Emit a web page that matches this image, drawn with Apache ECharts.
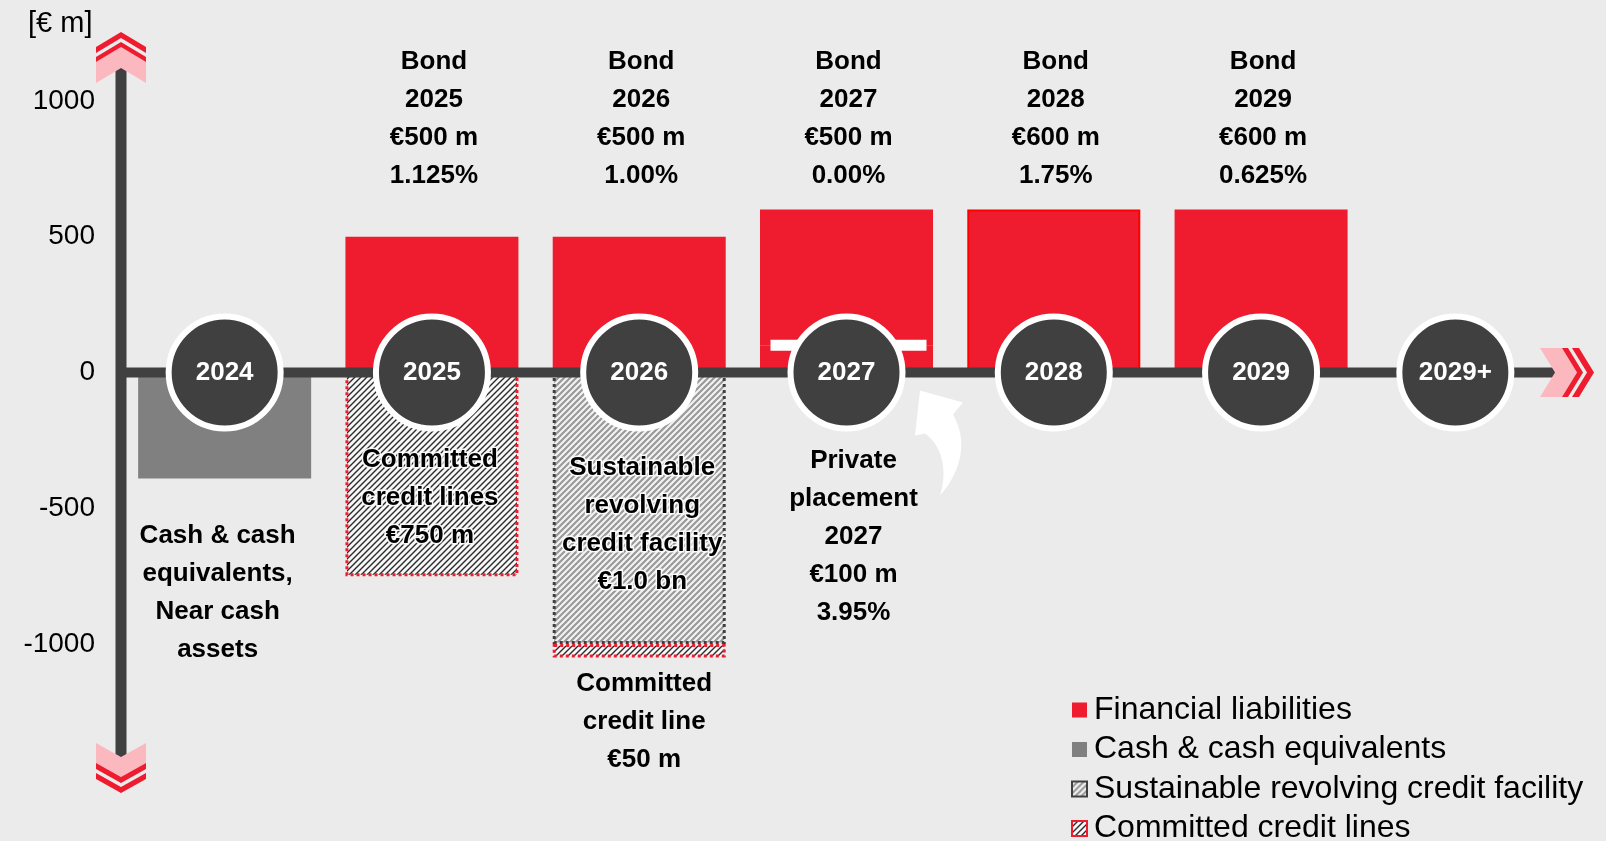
<!DOCTYPE html>
<html><head><meta charset="utf-8">
<script src="https://cdn.jsdelivr.net/npm/echarts/dist/echarts.min.js"></script>
<style>html,body{margin:0;padding:0;background:#EBEBEB}#c{width:1606px;height:841px}</style>
</head><body><div id="c"></div><script>
// ---------- data ----------
const categories = ['2024', '2025', '2026', '2027', '2028', '2029', '2029+'];
const bondValues = [null, 500, 500, 500, 600, 600, null];
const privatePlacementValues = [null, null, null, 100, null, null, null];
const cashValues = [-390, null, null, null, null, null, null];
const revolvingFacilityValues = [null, null, -1000, null, null, null, null];
const committedCreditValues = [null, -750, -50, null, null, null, null];
const yAxisMin = -1000, yAxisMax = 1000, yAxisStep = 500;
const legendNames = ['Financial liabilities', 'Cash & cash equivalents', 'Sustainable revolving credit facility', 'Committed credit lines'];
const bondCategories = ['2025', '2026', '2027', '2028', '2029'];
const bondLabels = ['Bond\n2025\n€500 m\n1.125%', 'Bond\n2026\n€500 m\n1.00%', 'Bond\n2027\n€500 m\n0.00%', 'Bond\n2028\n€600 m\n1.75%', 'Bond\n2029\n€600 m\n0.625%'];
const noteCategories = ['2024', '2025', '2026', '2026', '2027'];
const noteLabels = ['Cash & cash\nequivalents,\nNear cash\nassets', 'Committed\ncredit lines\n€750 m', 'Sustainable\nrevolving\ncredit facility\n€1.0 bn', 'Committed\ncredit line\n€50 m', 'Private\nplacement\n2027\n€100 m\n3.95%'];
const unitLabel = '[€ m]';

// ---------- style ----------
const RED = '#EE1C2E', PINK = '#FBB9BF', DARK = '#404040', FONT = '"Liberation Sans", Arial, sans-serif';
const GRID_LEFT = 121, GRID_RIGHT = 34, GRID_TOP = 101, GRID_BOTTOM = 197;
const noteLayout = [ {dx: -7, top: 517, halo: false}, {dx: -2, top: 441, halo: true}, {dx: 3, top: 449, halo: true}, {dx: 5, top: 665, halo: false}, {dx: 7, top: 442, halo: false} ];

function stripes(bg, fg, size, lw) {
  const c = document.createElement('canvas');
  c.width = c.height = size;
  const ctx = c.getContext('2d');
  ctx.fillStyle = bg; ctx.fillRect(0, 0, size, size);
  ctx.strokeStyle = fg; ctx.lineWidth = lw;
  ctx.beginPath();
  ctx.moveTo(-1, size + 1); ctx.lineTo(size + 1, -1);
  ctx.moveTo(-size / 2 - 1, size / 2 + 1); ctx.lineTo(size / 2 + 1, -size / 2 - 1);
  ctx.moveTo(size / 2 - 1, size * 1.5 + 1); ctx.lineTo(size * 1.5 + 1, size / 2 - 1);
  ctx.stroke();
  return c;
}
const committedPattern = { image: stripes('#f7f7f7', '#2a2a2a', 6, 1.4), repeat: 'repeat' };
const revolvingPattern = { image: stripes('#f4f4f4', '#9a9a9a', 6, 2.2), repeat: 'repeat' };

const chart = echarts.init(document.getElementById('c'), null, { renderer: 'canvas' });
const BAR_W = 173;

const option = {
  backgroundColor: '#EBEBEB',
  animation: false,
  textStyle: { fontFamily: FONT },
  title: { text: unitLabel, left: 28, top: 9, padding: 0, textStyle: { fontSize: 29, fontWeight: 'normal', color: '#000', fontFamily: FONT } },
  grid: { left: GRID_LEFT, right: GRID_RIGHT, top: GRID_TOP, bottom: GRID_BOTTOM, containLabel: false, outerBoundsMode: 'none' },
  legend: {
    data: legendNames, orient: 'vertical', left: 1071, top: 694, height: 200, padding: 0,
    itemWidth: 15, itemHeight: 15, itemGap: 7.5,
    icon: 'rect', selectedMode: false,
    textStyle: { fontSize: 32, lineHeight: 32, color: '#000', fontFamily: FONT, padding: [0, 0, 0, 2] }
  },
  xAxis: { type: 'category', data: categories, axisLine: { show: false }, axisTick: { show: false }, axisLabel: { show: false }, splitLine: { show: false } },
  yAxis: {
    type: 'value', min: yAxisMin, max: yAxisMax, interval: yAxisStep,
    axisLine: { show: false }, axisTick: { show: false }, splitLine: { show: false },
    axisLabel: { fontSize: 28, color: '#000', margin: 26, fontFamily: FONT, padding: [3, 0, 0, 0], formatter: v => String(v) }
  },
  series: [
    { name: 'Financial liabilities', type: 'bar', stack: 'total', clip: false, barWidth: BAR_W, data: privatePlacementValues, itemStyle: { color: RED } },
    { name: 'Financial liabilities', type: 'bar', stack: 'total', clip: false, barWidth: BAR_W,
      data: bondValues.map((v, i) => categories[i] === '2028' ? { value: v, itemStyle: { borderColor: '#FF0000', borderWidth: 2 } } : v),
      itemStyle: { color: RED } },
    { name: 'Cash & cash equivalents', type: 'bar', stack: 'total', clip: false, barWidth: BAR_W, data: cashValues, itemStyle: { color: '#808080' } },
    { name: 'Sustainable revolving credit facility', type: 'bar', stack: 'total', clip: false, barWidth: BAR_W, data: revolvingFacilityValues,
      itemStyle: { color: revolvingPattern, borderColor: DARK, borderWidth: 3, borderType: [3, 3] } },
    { name: 'Committed credit lines', type: 'bar', stack: 'total', clip: false, barWidth: BAR_W, data: committedCreditValues,
      itemStyle: { color: committedPattern, borderColor: RED, borderWidth: 3, borderType: [3, 3] } },
    { name: 'split', type: 'custom', z: 3, clip: false,
      data: privatePlacementValues.map((v, i) => v == null ? null : [i, v]).filter(d => d),
      renderItem: (params, api) => {
        const p = api.coord([api.value(0), api.value(1)]);
        return { type: 'rect', shape: { x: p[0] - 76, y: p[1] - 5.5, width: 156, height: 11 }, style: { fill: '#fff' } };
      } },
    { name: 'years', type: 'scatter', z: 10, symbol: 'circle', symbolSize: 112, clip: false,
      data: categories.map((c, i) => c === '2029+' ? { name: c, value: [i, 0], symbolOffset: [-13, 0] } : { name: c, value: [i, 0] }),
      itemStyle: { color: DARK, borderColor: '#fff', borderWidth: 6, opacity: 1 },
      label: { show: true, position: 'inside', formatter: '{b}', color: '#fff', fontSize: 26, fontWeight: 'bold', fontFamily: FONT },
      emphasis: { disabled: true } }
  ]
};
chart.setOption(option);

// ---------- decorations (positions derived from the axes) ----------
const zeroY = chart.convertToPixel({ yAxisIndex: 0 }, 0);
const ax = GRID_LEFT;
const g = [];
function chevronDown(cx, y, t, hw, depth, fill) {
  return { type: 'polygon', z: 6, shape: { points: [[cx - hw, y], [cx, y + depth], [cx + hw, y], [cx + hw, y + t], [cx, y + depth + t], [cx - hw, y + t]] }, style: { fill } };
}
function chevronUp(cx, y, t, hw, depth, fill) {
  return { type: 'polygon', z: 6, shape: { points: [[cx - hw, y], [cx, y - depth], [cx + hw, y], [cx + hw, y - t], [cx, y - depth - t], [cx - hw, y - t]] }, style: { fill } };
}
function chevronRight(x, cy, t, hh, depth, fill) {
  return { type: 'polygon', z: 6, shape: { points: [[x, cy - hh], [x + depth, cy], [x, cy + hh], [x + t, cy + hh], [x + depth + t, cy], [x + t, cy - hh]] }, style: { fill } };
}
// axis lines
g.push({ type: 'rect', z: 5, shape: { x: ax - 5.5, y: 66, width: 11, height: 757 - 66 }, style: { fill: DARK } });
g.push({ type: 'rect', z: 5, shape: { x: ax, y: zeroY - 5, width: 1555 - ax, height: 10 }, style: { fill: DARK } });
// top arrow
g.push(chevronUp(ax, 83, 21, 25, 15, PINK));
g.push(chevronUp(ax, 62, 5, 25, 15, RED));
g.push(chevronUp(ax, 53, 6, 25, 15, RED));
// bottom arrow
g.push(chevronDown(ax, 743, 20, 25, 14, PINK));
g.push(chevronDown(ax, 763, 6, 25, 14, RED));
g.push(chevronDown(ax, 773, 6, 25, 14, RED));
// right arrow
g.push(chevronRight(1540, zeroY, 22, 24.5, 15, PINK));
g.push(chevronRight(1562, zeroY, 6, 24.5, 15, RED));
g.push(chevronRight(1572, zeroY, 7, 24.5, 15, RED));

const txt = { fontSize: 26, fontWeight: 'bold', fill: '#000', fontFamily: FONT, lineHeight: 38, align: 'center', verticalAlign: 'top' };
bondCategories.forEach((c, i) => {
  const x = chart.convertToPixel({ xAxisIndex: 0 }, c);
  g.push({ type: 'text', z: 20, x: x + 2, y: 43, style: Object.assign({ text: bondLabels[i] }, txt) });
});
noteCategories.forEach((c, i) => {
  const x = chart.convertToPixel({ xAxisIndex: 0 }, c);
  const L = noteLayout[i];
  const st = Object.assign({ text: noteLabels[i] }, txt);
  if (L.halo) { st.stroke = 'rgba(255,255,255,0.9)'; st.lineWidth = 3; }
  g.push({ type: 'text', z: 20, x: x + L.dx, y: L.top, style: st });
});
// curved white arrow pointing at the 2027 marker (outline sampled from two cubic curves)
function cubic(p0, p1, p2, p3, n) {
  const out = [];
  for (let k = 1; k <= n; k++) {
    const t = k / n, u = 1 - t;
    out.push([u*u*u*p0[0] + 3*u*u*t*p1[0] + 3*u*t*t*p2[0] + t*t*t*p3[0], u*u*u*p0[1] + 3*u*u*t*p1[1] + 3*u*t*t*p2[1] + t*t*t*p3[1]]);
  }
  return out;
}
const x27 = chart.convertToPixel({ xAxisIndex: 0 }, '2027');
const arrowPts = [[73.5, 18], [116.5, 30], [106.5, 42]]
  .concat(cubic([106.5, 42], [121.5, 68], [115.5, 98], [93.5, 123], 16))
  .concat(cubic([93.5, 123], [101.5, 98], [95.5, 73], [78.5, 61], 16))
  .concat([[68.5, 63]]);
g.push({ type: 'polygon', z: 7, x: x27, y: zeroY, shape: { points: arrowPts }, style: { fill: '#fff' } });

chart.setOption({ graphic: { elements: g } });
</script></body></html>
